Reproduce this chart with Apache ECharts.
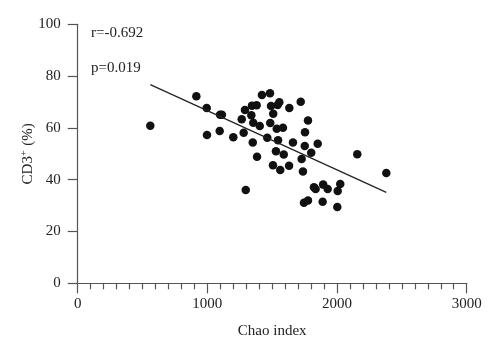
<!DOCTYPE html>
<html>
<head>
<meta charset="utf-8">
<script src="https://cdn.jsdelivr.net/npm/echarts@6/dist/echarts.min.js"></script>
<style>html,body{margin:0;padding:0;background:#fff}#c{width:500px;height:355px}</style>
</head>
<body>
<div id="c"></div>
<script>
// Chao index values
var chaoIndex = [560, 915, 995, 1098, 1112, 997, 1095, 1200, 1280, 1265, 1290, 1339, 1344, 1380, 1354, 1404, 1350, 1383, 1296,
  1421, 1483, 1491, 1542, 1555, 1508, 1485, 1535, 1583, 1462, 1545, 1529, 1589, 1506, 1562, 1630, 1632, 1720, 1776, 1753,
  1660, 1751, 1851, 1801, 1727, 1737, 1822, 1835, 1893, 1928, 2025, 2005, 1745, 1776, 1889, 2002, 2156, 2380];
// CD3+ (%) values
var cd3 = [60.8, 72.2, 67.7, 65.1, 65.1, 57.3, 58.8, 56.4, 58.1, 63.3, 66.9, 64.9, 68.6, 68.7, 62.0, 60.7, 54.4, 48.9, 36.0,
  72.7, 73.4, 68.5, 68.8, 69.9, 65.5, 61.9, 59.7, 60.1, 56.2, 55.2, 51.0, 49.7, 45.6, 43.7, 45.4, 67.7, 70.1, 62.9, 58.3,
  54.4, 53.0, 53.9, 50.4, 48.0, 43.2, 37.1, 36.4, 38.1, 36.4, 38.3, 35.6, 31.1, 32.0, 31.5, 29.5, 49.8, 42.6];
// regression line endpoints
var fitX = [560, 2380];
var fitY = [76.7, 35.1];
var xTicks = [0, 1000, 2000, 3000];
var yTicks = [0, 20, 40, 60, 80, 100];
var statsText = ['r=-0.692', 'p=0.019'];

var points = chaoIndex.map(function (x, i) { return [x, cd3[i]]; });
var fitLine = fitX.map(function (x, i) { return [x, fitY[i]]; });

var FONT = 'Liberation Serif';
var AX = '#555';
var chart = echarts.init(document.getElementById('c'), null, {renderer: 'canvas'});
chart.setOption({
  animation: false,
  backgroundColor: '#fff',
  grid: {left: 77.7, right: 33.3, top: 24.3, bottom: 71.7, containLabel: false},
  xAxis: {
    type: 'value', min: xTicks[0], max: xTicks[xTicks.length - 1], interval: 1000,
    name: 'Chao index', nameLocation: 'middle', nameGap: 40,
    nameTextStyle: {fontFamily: FONT, fontSize: 15, color: '#222'},
    axisLine: {show: true, onZero: false, lineStyle: {color: AX, width: 1.2}},
    axisTick: {show: true, length: 10, lineStyle: {color: AX, width: 1.2}},
    minorTick: {show: true, splitNumber: 10, length: 6, lineStyle: {color: AX, width: 1.2}},
    splitLine: {show: false},
    axisLabel: {fontFamily: FONT, fontSize: 15, color: '#222', margin: 13,
      formatter: function (v) { return String(v); }}
  },
  yAxis: {
    type: 'value', min: yTicks[0], max: yTicks[yTicks.length - 1], interval: 20,
    name: '{n|CD3}{s|+}{n| (%)}', nameLocation: 'middle', nameGap: 42, nameRotate: 90,
    nameMoveOverlap: false,
    nameTextStyle: {
      rich: {
        n: {fontFamily: FONT, fontSize: 15, color: '#222'},
        s: {fontFamily: FONT, fontSize: 10, color: '#222', verticalAlign: 'top', padding: [0, 1, 6, 0]}
      }
    },
    axisLine: {show: true, lineStyle: {color: AX, width: 1.2}},
    axisTick: {show: true, length: 10, lineStyle: {color: AX, width: 1.2}},
    splitLine: {show: false},
    axisLabel: {fontFamily: FONT, fontSize: 15, color: '#222', margin: 17}
  },
  series: [
    {
      type: 'scatter', data: points, symbol: 'circle', symbolSize: 8.5,
      itemStyle: {color: '#111', opacity: 1}
    },
    {
      type: 'line', data: fitLine, symbol: 'none',
      lineStyle: {color: '#222', width: 1.2}
    }
  ],
  graphic: [
    {type: 'text', left: 91, top: 26, style: {text: statsText[0], font: '15px "Liberation Serif"', fill: '#222'}},
    {type: 'text', left: 91, top: 61, style: {text: statsText[1], font: '15px "Liberation Serif"', fill: '#222'}}
  ]
});
</script>
</body>
</html>
